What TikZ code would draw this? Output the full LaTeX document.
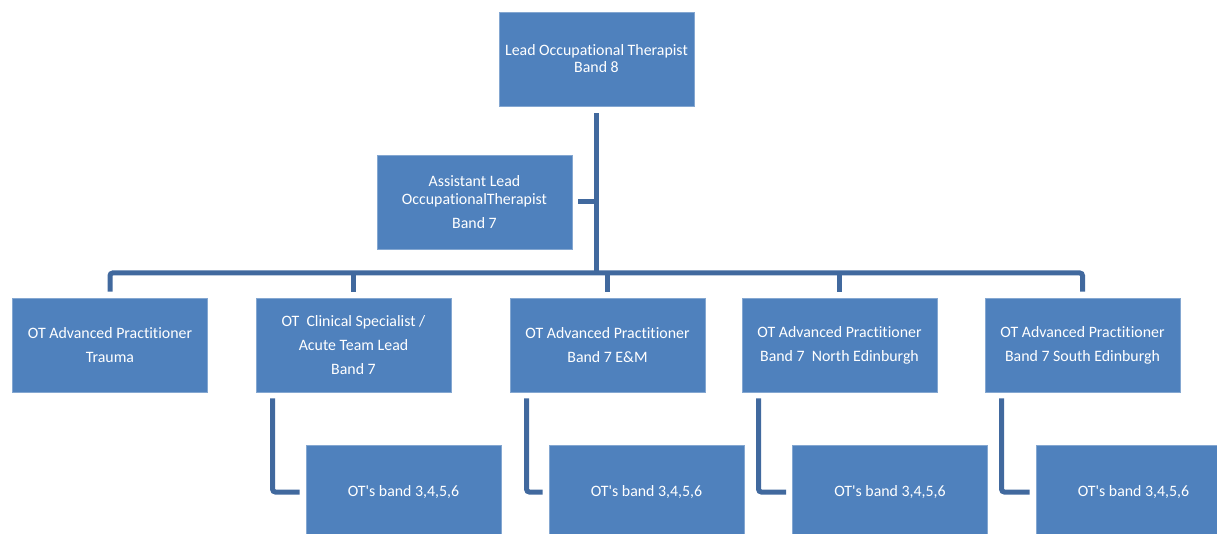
\documentclass[tikz,border=0pt]{standalone}
\usepackage{fontspec}
\setmainfont[Ligatures={TeX,NoCommon}]{Carlito}
\usepackage{tikz}
\usetikzlibrary{shapes, arrows}
\definecolor{caixa}{HTML}{4F81BD}
\definecolor{linha}{HTML}{41699E}
\tikzstyle{cargo} = [rectangle, draw=caixa!70!white, line width=0.6pt, fill=caixa, text=white, text centered, align=center, minimum width=146.25pt, minimum height=70.5pt, inner sep=2pt, font=\fontsize{11.9}{18}\selectfont]
\tikzstyle{connector} = [draw=linha, line width=3.75pt, rounded corners=2pt]

\begin{document}
\begin{tikzpicture}[x=0.75pt, y=-0.75pt] %cada unidade vale um pixel da figura original

\clip (0,0) rectangle (1217,534);
%recorte do tamanho da figura, as caixas de baixo ficam cortadas

%---------------------------------------------
%Caixas do organograma
%---------------------------------------------

\node [cargo, font=\fontsize{11.9}{12.75}\selectfont] (lider) at (596.5,59) {Lead Occupational Therapist\\Band 8};
%caixa do topo

\node [cargo, font=\fontsize{11.9}{13.5}\selectfont] (assistente) at (474.5,202) {Assistant Lead\\OccupationalTherapist\\[4.5pt]Band 7};
%caixa ao lado do tronco principal

\node [cargo] (trauma) at (110,345) {OT Advanced Practitioner\\Trauma};
\node [cargo] (clinico) at (353.5,345) {OT\ \ Clinical Specialist /\\Acute Team Lead\\Band 7};
\node [cargo] (em) at (607.5,345) {OT Advanced Practitioner\\Band 7 E\&M};
\node [cargo] (norte) at (839.5,345) {OT Advanced Practitioner\\Band 7\ \ North Edinburgh};
\node [cargo] (sul) at (1082.5,345) {OT Advanced Practitioner\\Band 7 South Edinburgh};
%segunda linha, cinco caixas

\node [cargo] (equipa1) at (403.5,492) {OT\textquotesingle s band 3,4,5,6};
\node [cargo] (equipa2) at (646.5,492) {OT\textquotesingle s band 3,4,5,6};
\node [cargo] (equipa3) at (890,492) {OT\textquotesingle s band 3,4,5,6};
\node [cargo] (equipa4) at (1133.5,492) {OT\textquotesingle s band 3,4,5,6};
%terceira linha, cortada em baixo

\coordinate (barra) at (0,273);
%altura da barra horizontal

%---------------------------------------------
%Ligacoes do organograma
%---------------------------------------------
\path [connector] ([yshift=-5.25pt]lider.south) -- (lider.south |- barra);
\path [connector] ([xshift=4.5pt]assistente.east) -- (assistente.east -| lider.south);
\path [connector] ([yshift=4.5pt]trauma.north) |- (barra -| sul.north) -- ([yshift=4.5pt]sul.north);
\path [connector] (barra -| clinico.north) -- ([yshift=4.5pt]clinico.north);
\path [connector] (barra -| em.north) -- ([yshift=4.5pt]em.north);
\path [connector] (barra -| norte.north) -- ([yshift=4.5pt]norte.north);
\path [connector] ([xshift=12.75pt, yshift=-4.5pt]clinico.south west) |- ([xshift=-4.5pt]equipa1.west);
\path [connector] ([xshift=12.75pt, yshift=-4.5pt]em.south west) |- ([xshift=-4.5pt]equipa2.west);
\path [connector] ([xshift=12.75pt, yshift=-4.5pt]norte.south west) |- ([xshift=-4.5pt]equipa3.west);
\path [connector] ([xshift=12.75pt, yshift=-4.5pt]sul.south west) |- ([xshift=-4.5pt]equipa4.west);

\end{tikzpicture}
\end{document}
